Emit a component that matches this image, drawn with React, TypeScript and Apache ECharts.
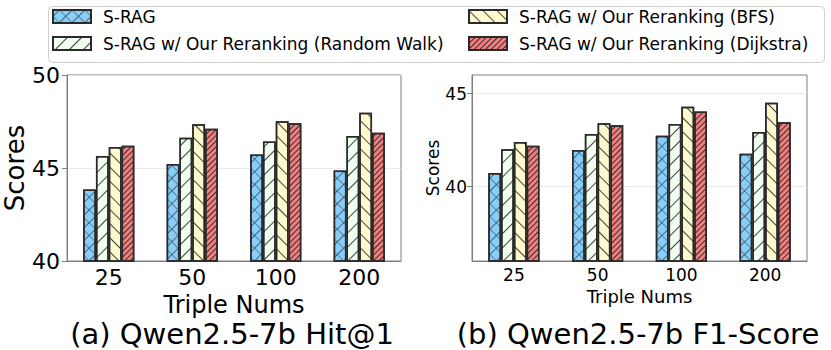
import React, { useEffect, useRef } from 'react';
import * as echarts from 'echarts';

const categories = ['25', '50', '100', '200'];
const seriesNames = [
  'S-RAG',
  'S-RAG w/ Our Reranking (Random Walk)',
  'S-RAG w/ Our Reranking (BFS)',
  'S-RAG w/ Our Reranking (Dijkstra)',
];

// (a) Qwen2.5-7b Hit@1
const hitSRAG = [43.84, 45.21, 45.73, 44.87];
const hitRandomWalk = [45.65, 46.63, 46.42, 46.72];
const hitBFS = [46.13, 47.35, 47.51, 47.97];
const hitDijkstra = [46.2, 47.11, 47.4, 46.9];

// (b) Qwen2.5-7b F1-Score
const f1SRAG = [40.73, 41.97, 42.74, 41.76];
const f1RandomWalk = [42.01, 42.83, 43.36, 42.94];
const f1BFS = [42.4, 43.41, 44.29, 44.51];
const f1Dijkstra = [42.19, 43.3, 44.04, 43.46];

const hitTicks = [40, 45, 50];
const f1Ticks = [40, 45];

const titles = ['(a) Qwen2.5-7b Hit@1', '(b) Qwen2.5-7b F1-Score'];

const FONT = 'DejaVu Sans';
const colors = ['#87CEFA', '#F0FFF0', '#FFFACD', '#F08080'];
const hatchColor = 'rgba(20,20,20,0.8)';
const plusPath = 'path://M4.6,0H5.4V4.6H10V5.4H5.4V10H4.6V5.4H0V4.6H4.6Z';
const decals: any[] = [
  { symbol: plusPath, symbolSize: 1, symbolKeepAspect: false, dashArrayX: [9, 0], dashArrayY: [9, 0], rotation: Math.PI / 4, color: hatchColor },
  { symbol: 'rect', symbolSize: 1, dashArrayX: [1, 0], dashArrayY: [0.9, 8.1], rotation: -Math.PI / 4, color: hatchColor },
  { symbol: 'rect', symbolSize: 1, dashArrayX: [1, 0], dashArrayY: [0.9, 8.1], rotation: Math.PI / 4, color: hatchColor },
  { symbol: 'rect', symbolSize: 1, dashArrayX: [1, 0], dashArrayY: [0.9, 2.1], rotation: -Math.PI / 4, color: hatchColor },
];

function makeSeries(i: number, data: number[], g: number) {
  return {
    name: seriesNames[i],
    type: 'bar',
    xAxisIndex: g,
    yAxisIndex: g,
    data,
    barWidth: 12.8,
    barGap: '0%',
    itemStyle: {
      color: colors[i],
      borderColor: '#2a2a2a',
      borderWidth: 1.5,
      decal: decals[i],
    },
  };
}

export default function App() {
  const ref = useRef<HTMLDivElement>(null);
  useEffect(() => {
    if (!ref.current) return;
    const chart = echarts.init(ref.current, null, { renderer: 'svg' });
    const axisLineStyle = { color: '#808080', width: 1 };
    const legendText = { fontSize: 17, fontFamily: FONT, color: '#000', lineHeight: 17, padding: [0, 0, 0, 7] };
    const option: any = {
      animation: false,
      backgroundColor: '#fff',
      textStyle: { fontFamily: FONT },
      legend: [
        {
          data: [seriesNames[0], seriesNames[1]],
          orient: 'vertical', left: 52, top: 8, padding: 0,
          itemWidth: 38, itemHeight: 13, itemGap: 10, icon: 'rect',
          textStyle: legendText, selectedMode: false,
        },
        {
          data: [seriesNames[2], seriesNames[3]],
          orient: 'vertical', left: 468, top: 8, padding: 0,
          itemWidth: 38, itemHeight: 13, itemGap: 10, icon: 'rect',
          textStyle: legendText, selectedMode: false,
        },
      ],
      grid: [
        { left: 67, top: 75, width: 334, height: 186, show: true, borderColor: '#808080', borderWidth: 1, backgroundColor: 'transparent' },
        { left: 472, top: 75, width: 335, height: 186, show: true, borderColor: '#808080', borderWidth: 1, backgroundColor: 'transparent' },
      ],
      xAxis: [
        {
          type: 'category', gridIndex: 0, data: categories,
          name: 'Triple Nums', nameLocation: 'middle', nameGap: 22,
          nameTextStyle: { fontSize: 24, color: '#000', fontFamily: FONT },
          axisLine: { lineStyle: axisLineStyle },
          axisTick: { alignWithLabel: true, length: 5, lineStyle: axisLineStyle },
          axisLabel: { fontSize: 22, color: '#000', margin: 5, fontFamily: FONT },
        },
        {
          type: 'category', gridIndex: 1, data: categories,
          name: 'Triple Nums', nameLocation: 'middle', nameGap: 15,
          nameTextStyle: { fontSize: 18, color: '#000', fontFamily: FONT },
          axisLine: { lineStyle: axisLineStyle },
          axisTick: { alignWithLabel: true, length: 5, lineStyle: axisLineStyle },
          axisLabel: { fontSize: 17, color: '#000', margin: 5, fontFamily: FONT },
        },
      ],
      yAxis: [
        {
          type: 'value', gridIndex: 0, min: 40, max: 50, interval: 5,
          name: 'Scores', nameLocation: 'middle', nameGap: 38, nameRotate: 90,
          nameTextStyle: { fontSize: 26, color: '#000', fontFamily: FONT },
          axisLine: { show: true, lineStyle: axisLineStyle },
          axisTick: { show: true, length: 5, lineStyle: axisLineStyle, customValues: hitTicks },
          axisLabel: { fontSize: 22, color: '#000', margin: 7, fontFamily: FONT, customValues: hitTicks },
          splitLine: { show: true, lineStyle: { color: '#e4e4e4', width: 0.8 } },
        },
        {
          type: 'value', gridIndex: 1, min: 36, max: 46,
          name: 'Scores', nameLocation: 'middle', nameGap: 30, nameRotate: 90,
          nameTextStyle: { fontSize: 17, color: '#000', fontFamily: FONT },
          axisLine: { show: true, lineStyle: axisLineStyle },
          axisTick: { show: true, length: 5, lineStyle: axisLineStyle, customValues: f1Ticks },
          axisLabel: { fontSize: 17, color: '#000', margin: 5, fontFamily: FONT, customValues: f1Ticks },
          splitLine: { show: true, lineStyle: { color: '#e4e4e4', width: 0.8 } },
        },
      ],
      graphic: [
        {
          type: 'rect', left: 46, top: 4, z: -10, silent: true,
          shape: { width: 776, height: 56, r: 4 },
          style: { fill: 'none', stroke: '#d0d0d0', lineWidth: 1 },
        },
        {
          type: 'text', x: 232, y: 334, silent: true,
          style: { text: titles[0], font: `29px "${FONT}"`, fill: '#000', align: 'center', verticalAlign: 'middle' },
        },
        {
          type: 'text', x: 638, y: 334, silent: true,
          style: { text: titles[1], font: `29px "${FONT}"`, fill: '#000', align: 'center', verticalAlign: 'middle' },
        },
      ],
      series: [
        makeSeries(0, hitSRAG, 0),
        makeSeries(1, hitRandomWalk, 0),
        makeSeries(2, hitBFS, 0),
        makeSeries(3, hitDijkstra, 0),
        makeSeries(0, f1SRAG, 1),
        makeSeries(1, f1RandomWalk, 1),
        makeSeries(2, f1BFS, 1),
        makeSeries(3, f1Dijkstra, 1),
      ],
    };
    chart.setOption(option);
    return () => chart.dispose();
  }, []);
  return (
    <div
      ref={ref}
      style={{ position: 'fixed', left: 0, top: 0, width: 831, height: 350, background: '#fff' }}
    />
  );
}
